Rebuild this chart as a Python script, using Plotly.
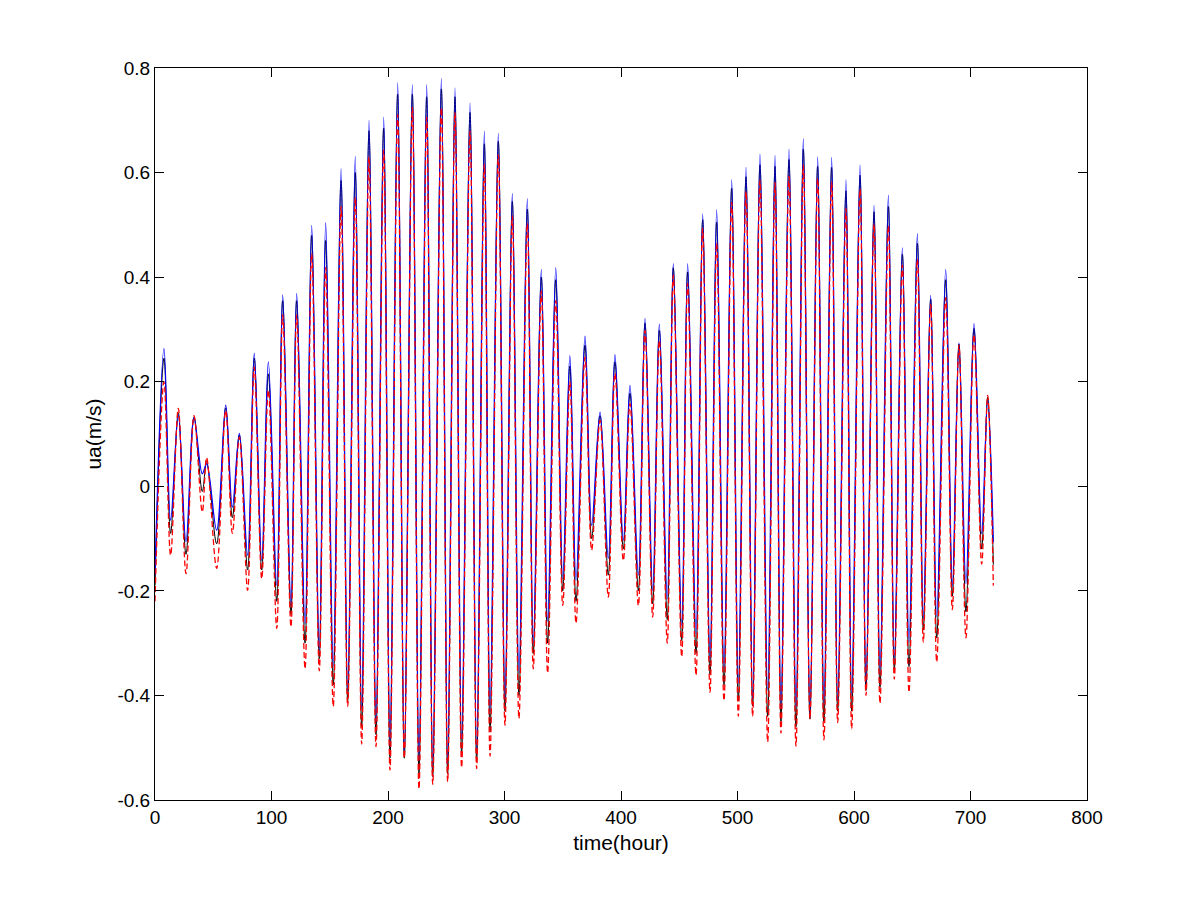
import plotly.graph_objects as go

# times (hours) of successive local extremes
time_h = [0, 7.7, 13.4, 20.0, 26.6, 33.5, 40.6, 44.3, 52.9, 60.7, 66.4, 72.4, 79.5, 85.2, 91.6, 97.3, 104.5,
          109.6, 116.7, 121.6, 128.8, 134.5, 141.0, 146.5, 153.0, 159.7, 165.4, 171.9, 177.4, 183.7, 189.7,
          196.3, 201.7, 208.3, 214.0, 220.9, 226.6, 233.2, 238.4, 245.8, 251.2, 257.5, 263.2, 270.4, 276.1,
          282.7, 287.6, 294.7, 300.4, 306.7, 312.4, 319.6, 324.7, 331.6, 337.0, 344.0, 350.0, 356.1, 361.4,
          369.1, 374.8, 382.0, 389.1, 394.8, 402.0, 407.7, 414.9, 420.6, 427.2, 432.9, 439.7, 444.9, 452.1,
          457.2, 464.4, 470.1, 476.4, 482.1, 488.4, 495.0, 500.7, 507.3, 513.0, 519.3, 525.9, 532.2, 537.3,
          544.2, 550.2, 556.5, 562.2, 568.8, 574.2, 580.8, 586.0, 593.1, 598.0, 605.2, 610.3, 617.2, 622.3,
          629.5, 634.6, 641.5, 647.2, 654.4, 659.5, 665.8, 671.0, 678.7, 684.4, 690.1, 696.1, 703.0, 709.6,
          714.7, 719.6]

ua_blue = [-0.17, 0.263, -0.065, 0.136, -0.106, 0.131, 0.024, 0.043, -0.084, 0.155, -0.040, 0.101, -0.132,
           0.254, -0.142, 0.238, -0.189, 0.366, -0.226, 0.369, -0.263, 0.499, -0.313, 0.504, -0.344, 0.607,
           -0.394, 0.631, -0.426, 0.700, -0.453, 0.706, -0.493, 0.772, -0.516, 0.768, -0.525, 0.768, -0.538,
           0.780, -0.530, 0.762, -0.484, 0.733, -0.507, 0.679, -0.430, 0.675, -0.407, 0.560, -0.357, 0.550,
           -0.299, 0.415, -0.258, 0.418, -0.176, 0.250, -0.180, 0.287, -0.075, 0.142, -0.138, 0.252, -0.103,
           0.193, -0.170, 0.321, -0.199, 0.310, -0.215, 0.426, -0.266, 0.426, -0.282, 0.521, -0.332, 0.529,
           -0.348, 0.586, -0.377, 0.610, -0.406, 0.635, -0.390, 0.633, -0.423, 0.645, -0.423, 0.665, -0.440,
           0.630, -0.419, 0.629, -0.410, 0.586, -0.398, 0.614, -0.377, 0.537, -0.356, 0.557, -0.332, 0.456,
           -0.298, 0.483, -0.253, 0.365, -0.249, 0.415, -0.191, 0.274, -0.186, 0.311, -0.091, 0.166, -0.107]

ua_red = [-0.22, 0.200, -0.132, 0.149, -0.167, 0.135, -0.049, 0.055, -0.157, 0.145, -0.090, 0.094, -0.199,
          0.228, -0.177, 0.184, -0.272, 0.328, -0.269, 0.328, -0.349, 0.445, -0.353, 0.418, -0.421, 0.535,
          -0.421, 0.553, -0.493, 0.630, -0.498, 0.643, -0.543, 0.711, -0.520, 0.724, -0.579, 0.706, -0.570,
          0.724, -0.565, 0.715, -0.538, 0.679, -0.540, 0.616, -0.516, 0.634, -0.457, 0.517, -0.444, 0.503,
          -0.349, 0.373, -0.357, 0.355, -0.228, 0.200, -0.262, 0.247, -0.122, 0.126, -0.212, 0.216, -0.142,
          0.158, -0.228, 0.298, -0.250, 0.279, -0.300, 0.404, -0.326, 0.388, -0.361, 0.493, -0.394, 0.465,
          -0.410, 0.543, -0.440, 0.564, -0.440, 0.585, -0.489, 0.581, -0.472, 0.593, -0.497, 0.614, -0.445,
          0.589, -0.485, 0.581, -0.452, 0.531, -0.464, 0.568, -0.400, 0.502, -0.415, 0.498, -0.369, 0.423,
          -0.394, 0.435, -0.298, 0.348, -0.336, 0.361, -0.236, 0.270, -0.290, 0.290, -0.149, 0.174, -0.190]

ua_black = [-0.19, 0.245, -0.09, 0.140, -0.13, 0.132, -0.01, 0.048, -0.11, 0.150, -0.06, 0.098, -0.16,
            0.245, -0.16, 0.215, -0.22, 0.355, -0.245, 0.355, -0.30, 0.480, -0.33, 0.470, -0.38, 0.585,
            -0.41, 0.600, -0.46, 0.680, -0.475, 0.685, -0.52, 0.750, -0.52, 0.750, -0.55, 0.745, -0.555,
            0.760, -0.55, 0.745, -0.51, 0.715, -0.525, 0.655, -0.47, 0.660, -0.43, 0.545, -0.40, 0.530,
            -0.32, 0.400, -0.30, 0.395, -0.20, 0.230, -0.22, 0.270, -0.10, 0.135, -0.17, 0.238, -0.12,
            0.178, -0.20, 0.312, -0.225, 0.298, -0.255, 0.418, -0.295, 0.410, -0.32, 0.510, -0.36, 0.505,
            -0.38, 0.570, -0.41, 0.592, -0.42, 0.615, -0.44, 0.612, -0.45, 0.625, -0.46, 0.645, -0.445,
            0.612, -0.45, 0.610, -0.43, 0.565, -0.43, 0.595, -0.39, 0.525, -0.385, 0.535, -0.35, 0.444,
            -0.345, 0.465, -0.275, 0.358, -0.29, 0.395, -0.21, 0.272, -0.24, 0.302, -0.12, 0.170, -0.15]

x_tickvals = [0, 100, 200, 300, 400, 500, 600, 700, 800]
x_ticktext = ["0", "100", "200", "300", "400", "500", "600", "700", "800"]
y_tickvals = [-0.6, -0.4, -0.2, 0, 0.2, 0.4, 0.6, 0.8]
y_ticktext = ["-0.6", "-0.4", "-0.2", "0", "0.2", "0.4", "0.6", "0.8"]

n = len(time_h)
assert len(ua_blue) == n and len(ua_red) == n and len(ua_black) == n, (n, len(ua_blue), len(ua_red), len(ua_black))

fig = go.Figure()
fig.add_trace(go.Scatter(x=time_h, y=ua_black, mode="lines", line=dict(color="black", width=1, shape="spline", smoothing=1.0)))
fig.add_trace(go.Scatter(x=time_h, y=ua_blue, mode="lines", line=dict(color="blue", width=1.3, shape="spline", smoothing=1.0)))
fig.add_trace(go.Scatter(x=time_h, y=ua_red, mode="lines", line=dict(color="red", width=1.3, dash="6px,3px", shape="spline", smoothing=1.0)))

tick_font = dict(family="Liberation Sans, Arial, sans-serif", size=19, color="black")
title_font = dict(family="Liberation Sans, Arial, sans-serif", size=21, color="black")
axis_common = dict(showline=True, linecolor="black", linewidth=1, mirror="ticks", ticks="inside",
                   ticklen=9, tickcolor="black", tickwidth=1, showgrid=False, zeroline=False,
                   tickfont=tick_font)

fig.update_layout(
    width=1201, height=900,
    paper_bgcolor="white", plot_bgcolor="white",
    margin=dict(l=155, r=114, t=68, b=100, autoexpand=False),
    showlegend=False,
    font=tick_font,
    xaxis=dict(range=[0, 800], tickvals=x_tickvals, ticktext=x_ticktext,
               title=dict(text="time(hour)", font=title_font, standoff=8), **axis_common),
    yaxis=dict(range=[-0.6, 0.8], tickvals=y_tickvals, ticktext=y_ticktext,
               title=dict(text="ua(m/s)", font=title_font, standoff=10), **axis_common),
)

fig.write_html("out.html")
